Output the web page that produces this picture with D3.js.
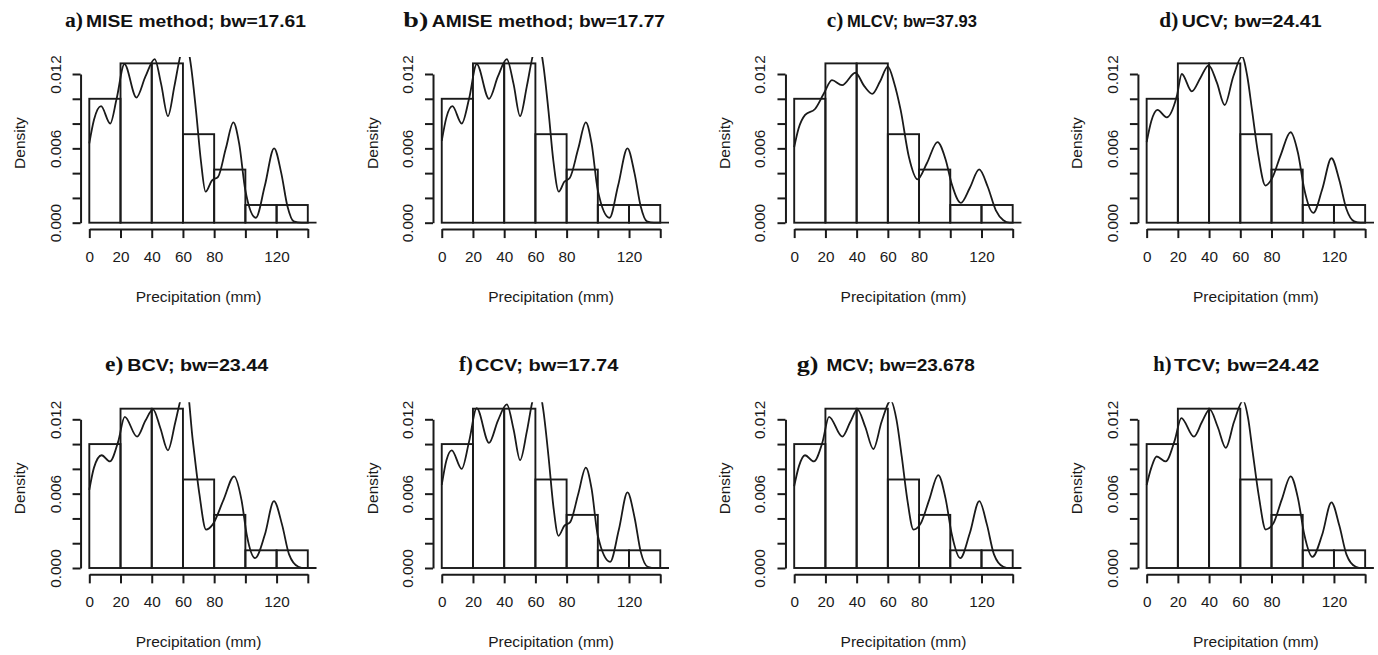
<!DOCTYPE html>
<html>
<head>
<meta charset="utf-8">
<script src="https://cdn.jsdelivr.net/npm/d3@7"></script>
<style>
  html, body { margin: 0; padding: 0; background: #fff; }
  svg { display: block; }
</style>
</head>
<body>
<svg id="chart" width="1378" height="655"></svg>
<script>
// Histogram of monthly precipitation (20 mm bins) shared by every panel
const binEdges = [0, 20, 40, 60, 80, 100, 120, 140];
const binCounts = [7, 9, 9, 5, 3, 1, 1];
const sampleSize = 35;

// Panel headings
const panelLabels = ["a)", "b)", "c)", "d)", "e)", "f)", "g)", "h)"];
const panelTitles = [
  "MISE method; bw=17.61",
  "AMISE method; bw=17.77",
  "MLCV; bw=37.93",
  "UCV; bw=24.41",
  "BCV; bw=23.44",
  "CCV; bw=17.74",
  "MCV; bw=23.678",
  "TCV; bw=24.42"
];

// Axis ticks and the labels R keeps after dropping overlaps
const xTicks = [0, 20, 40, 60, 80, 100, 120, 140];
const xTickLabels = ["0", "20", "40", "60", "80", "", "120", ""];
const yTicks = [0, 0.002, 0.004, 0.006, 0.008, 0.010, 0.012];
const yTickLabels = ["0.000", "", "", "0.006", "", "", "0.012"];

// Kernel density estimates, [precipitation, density]
const densityA = [[0,0.0064],[3,0.0083],[7.5,0.0094],[13.4,0.0080],[17.5,0.0100],[22.5,0.0128],[30.2,0.0101],[36,0.0118],[41.9,0.0132],[46,0.0112],[50.4,0.0086],[54.5,0.0110],[58,0.0133],[61.5,0.0148],[65,0.0128],[68.4,0.0090],[71.5,0.0050],[74.5,0.0025],[78.5,0.0034],[82.5,0.0037],[87.5,0.0060],[92.3,0.0081],[96,0.0064],[100,0.0026],[106.7,0.0004],[112.5,0.0030],[118.4,0.0060],[123,0.0040],[127,0.0013],[131,0.0001],[136,0],[150,0]];
const densityB = [[0,0.0066],[3,0.0085],[6.8,0.0094],[12.8,0.0080],[17.5,0.0100],[22.4,0.0128],[30.3,0.0100],[36,0.0118],[41.7,0.0132],[46,0.0112],[50.2,0.0086],[54.5,0.0110],[58,0.0133],[61.5,0.0148],[65,0.0128],[68.4,0.0090],[71.5,0.0050],[75,0.0025],[78.5,0.0033],[82,0.0036],[87.5,0.0060],[92.3,0.0081],[96,0.0064],[100,0.0026],[107.5,0.0004],[113,0.0030],[119,0.0060],[123.5,0.0040],[127.5,0.0013],[131.5,0.0001],[136,0],[150,0]];
const densityC = [[0,0.0061],[2.8,0.0076],[7,0.0087],[13.5,0.0092],[18.9,0.0104],[24.2,0.0115],[30.7,0.0111],[39.2,0.0121],[45,0.0110],[50,0.0104],[55,0.0114],[60,0.0126],[64,0.0113],[68.2,0.0091],[73.5,0.0053],[79,0.0035],[85,0.0048],[91.8,0.0065],[97,0.0051],[101,0.0031],[106.8,0.0016],[112.5,0.0028],[118.5,0.0043],[124,0.0029],[129.2,0.0010],[134,0.0002],[138,0],[150,0]];
const densityD = [[0,0.0065],[3,0.0082],[6.9,0.0091],[12.9,0.0085],[19.3,0.0102],[22.5,0.0120],[28.9,0.0106],[34.5,0.0117],[39.7,0.0127],[45,0.0113],[50,0.0095],[55.5,0.0118],[61.1,0.0134],[64.5,0.0118],[67.5,0.0091],[71.5,0.0055],[76.1,0.0030],[80.4,0.0036],[86,0.0055],[92.2,0.0073],[97,0.0056],[101,0.0027],[106.8,0.0008],[112.5,0.0027],[118.4,0.0052],[123.5,0.0034],[128,0.0011],[133,0.0001],[137,0],[150,0]];
const densityE = [[0,0.0063],[3,0.0081],[7.9,0.0091],[13.2,0.0086],[18.5,0.0102],[22.7,0.0122],[30.6,0.0106],[36,0.0119],[40.8,0.0128],[45.5,0.0113],[50.4,0.0095],[55,0.0117],[58.5,0.0136],[62,0.0150],[66.3,0.0103],[70.5,0.0060],[74.8,0.0031],[79,0.0035],[86,0.0055],[92.8,0.0074],[97.5,0.0055],[101,0.0026],[106.2,0.0008],[112.5,0.0027],[118.3,0.0054],[123.5,0.0035],[128,0.0011],[134,0.0001],[138,0],[150,0]];
const densityF = [[0,0.0067],[3,0.0087],[6.4,0.0095],[12.8,0.0080],[17.5,0.0102],[22.4,0.0129],[30.3,0.0101],[36,0.0119],[41.7,0.0132],[46,0.0112],[50.2,0.0087],[54.5,0.0110],[58,0.0134],[61.5,0.0148],[65,0.0128],[68.4,0.0090],[71.5,0.0050],[74.8,0.0026],[78.5,0.0034],[82.3,0.0037],[87.5,0.0060],[92.3,0.0081],[96,0.0064],[100,0.0026],[107.9,0.0005],[113.5,0.0031],[119,0.0061],[123.5,0.0041],[127.5,0.0013],[132,0.0001],[137,0],[150,0]];
const densityG = [[0,0.0066],[3,0.0082],[6.9,0.0091],[12.6,0.0086],[18,0.0101],[22.3,0.0122],[30.8,0.0106],[36,0.0118],[40.5,0.0128],[45.5,0.0114],[50.7,0.0096],[56,0.0118],[61.9,0.0135],[65.5,0.0120],[68.9,0.0090],[72.5,0.0055],[76.4,0.0031],[81.1,0.0036],[86.5,0.0055],[92.3,0.0075],[97,0.0056],[101,0.0027],[106.4,0.0008],[112.5,0.0028],[118.6,0.0054],[123.5,0.0035],[128,0.0011],[134,0.0001],[138,0],[150,0]];
const densityH = [[0,0.0067],[3,0.0081],[6.4,0.0090],[12.2,0.0086],[18,0.0103],[22.2,0.0121],[30.3,0.0106],[35.5,0.0118],[40.4,0.0128],[45.5,0.0114],[50.7,0.0097],[56,0.0118],[61.8,0.0135],[65,0.0121],[67.8,0.0095],[72,0.0057],[76.3,0.0031],[81.2,0.0036],[86.5,0.0055],[92.3,0.0074],[97,0.0056],[101,0.0027],[106.2,0.0009],[112.5,0.0027],[118.4,0.0053],[123.5,0.0034],[128,0.0011],[134,0.0001],[138,0],[150,0]];
const densities = [densityA, densityB, densityC, densityD, densityE, densityF, densityG, densityH];

// ---- layout ----
const COLS = 4;
const COL_X0 = 89.3;        // pixel of x = 0 in the first column
const COL_STEP = 352.45;
const X_SPAN = 218.5;       // pixels covering 0..140 mm
const ROW_BASE = 222.7;     // pixel of density = 0 in the first row
const ROW_STEP = 345.3;
const Y_PX_PER_UNIT = 148.7 / 0.012;
const TITLE_BASE = 27;
const TITLE_ROW_STEP = 344;
// heading placement relative to x = 0: letter start/width, bold title start/width
const titleLayout = [
  { lx: -24.3, lw: 18,   dx: -3.3, w: 220 },
  { lx: -38.4, lw: 25,   dx: -10,  w: 233.3 },
  { lx: 32.5,  lw: 16.6, dx: 52.7, w: 130 },
  { lx: 12.6,  lw: 19,   dx: 35,   w: 140 },
  { lx: 15.7,  lw: 18.3, dx: 38,   w: 141 },
  { lx: 17.3,  lw: 13.7, dx: 33.3, w: 143.3 },
  { lx: 2.5,   lw: 21.7, dx: 32.3, w: 148.3 },
  { lx: 6.7,   lw: 18.3, dx: 27.3, w: 145.3 }
];

const INK = "#1a1a1a";
const SANS = "Liberation Sans, Arial, Helvetica, sans-serif";
const SERIF = "Liberation Serif, Times New Roman, serif";

const hist = binCounts.map((c, i) => ({
  x0: binEdges[i], x1: binEdges[i + 1],
  density: c / (sampleSize * (binEdges[i + 1] - binEdges[i]))
}));
const yMax = d3.max(hist, d => d.density);
const xMin = binEdges[0], xMax = binEdges[binEdges.length - 1];
const xPad = 0.04 * (xMax - xMin), yPad = 0.04 * yMax;

const svg = d3.select("#chart");

densities.forEach((curve, i) => {
  const col = i % COLS, row = Math.floor(i / COLS);
  const x0px = COL_X0 + col * COL_STEP;
  const kx = X_SPAN / (xMax - xMin);
  const basePx = ROW_BASE + row * ROW_STEP;

  const x = d3.scaleLinear()
    .domain([xMin - xPad, xMax + xPad])
    .range([x0px - xPad * kx, x0px + (xMax + xPad) * kx]);
  const y = d3.scaleLinear()
    .domain([-yPad, yMax + yPad])
    .range([basePx + yPad * Y_PX_PER_UNIT, basePx - (yMax + yPad) * Y_PX_PER_UNIT]);

  const [left, right] = x.range();
  const [bottom, top] = y.range();

  const g = svg.append("g");
  const clipId = "clip-" + i;
  svg.append("clipPath").attr("id", clipId)
    .append("rect").attr("x", left).attr("y", top)
    .attr("width", right - left).attr("height", bottom - top);

  const plot = g.append("g").attr("clip-path", `url(#${clipId})`);

  // histogram bars
  plot.selectAll("rect.bar").data(hist).join("rect")
    .attr("class", "bar")
    .attr("x", d => x(d.x0))
    .attr("y", d => y(d.density))
    .attr("width", d => x(d.x1) - x(d.x0))
    .attr("height", d => y(0) - y(d.density))
    .attr("fill", "none")
    .attr("stroke", INK)
    .attr("stroke-width", 1.9);

  // density curve
  const line = d3.line()
    .x(d => x(d[0]))
    .y(d => y(d[1]))
    .curve(d3.curveMonotoneX);
  plot.append("path")
    .datum(curve)
    .attr("d", line)
    .attr("fill", "none")
    .attr("stroke", INK)
    .attr("stroke-width", 1.8);

  // x axis, offset below the plot region
  const xAxisScale = d3.scaleLinear().domain([xMin, xMax]).range([x(xMin), x(xMax)]);
  const xAxis = g.append("g")
    .attr("transform", `translate(0,${bottom})`)
    .call(d3.axisBottom(xAxisScale)
      .tickValues(xTicks)
      .tickSize(9)
      .tickSizeOuter(0)
      .tickPadding(13)
      .tickFormat((d, j) => xTickLabels[j]));
  xAxis.select(".domain").attr("stroke", INK).attr("stroke-width", 2);
  xAxis.selectAll(".tick line").attr("stroke", INK).attr("stroke-width", 2);
  xAxis.selectAll(".tick text")
    .attr("fill", INK).attr("font-family", SANS).attr("font-size", 15.3);

  // y axis on the left edge of the plot region
  const yAxisScale = d3.scaleLinear().domain([0, 0.012]).range([y(0), y(0.012)]);
  const yAxis = g.append("g")
    .attr("transform", `translate(${left},0)`)
    .call(d3.axisLeft(yAxisScale)
      .tickValues(yTicks)
      .tickSize(8)
      .tickSizeOuter(0)
      .tickFormat((d, j) => yTickLabels[j]));
  yAxis.select(".domain").attr("stroke", INK).attr("stroke-width", 2);
  yAxis.selectAll(".tick line").attr("stroke", INK).attr("stroke-width", 2);
  yAxis.selectAll(".tick text")
    .attr("fill", INK).attr("font-family", SANS).attr("font-size", 15.3)
    .attr("text-anchor", "middle")
    .attr("dominant-baseline", "central")
    .attr("x", 0).attr("dy", null)
    .attr("transform", "translate(-25.5,0) rotate(-90)");

  // axis titles
  g.append("text")
    .attr("x", (left + right) / 2)
    .attr("y", bottom + 67.6)
    .attr("text-anchor", "middle")
    .attr("dominant-baseline", "central")
    .attr("font-family", SANS).attr("font-size", 15.5).attr("fill", INK)
    .text("Precipitation (mm)");
  g.append("text")
    .attr("transform", `translate(${left - 61},${(top + bottom) / 2}) rotate(-90)`)
    .attr("text-anchor", "middle")
    .attr("dominant-baseline", "central")
    .attr("font-family", SANS).attr("font-size", 15.5).attr("fill", INK)
    .text("Density");

  // heading: serif panel letter followed by the bold method title
  const tl = titleLayout[i];
  const ty = TITLE_BASE + row * TITLE_ROW_STEP;
  g.append("text")
    .attr("x", x(0) + tl.lx).attr("y", ty)
    .attr("text-anchor", "start")
    .attr("font-family", SERIF).attr("font-weight", "bold").attr("font-size", 20)
    .attr("textLength", tl.lw).attr("lengthAdjust", "spacingAndGlyphs")
    .attr("fill", "#111")
    .text(panelLabels[i]);
  g.append("text")
    .attr("x", x(0) + tl.dx).attr("y", ty)
    .attr("text-anchor", "start")
    .attr("font-family", SANS).attr("font-weight", "bold").attr("font-size", 17)
    .attr("textLength", tl.w).attr("lengthAdjust", "spacingAndGlyphs")
    .attr("fill", "#111")
    .text(panelTitles[i]);
});
</script>
</body>
</html>
